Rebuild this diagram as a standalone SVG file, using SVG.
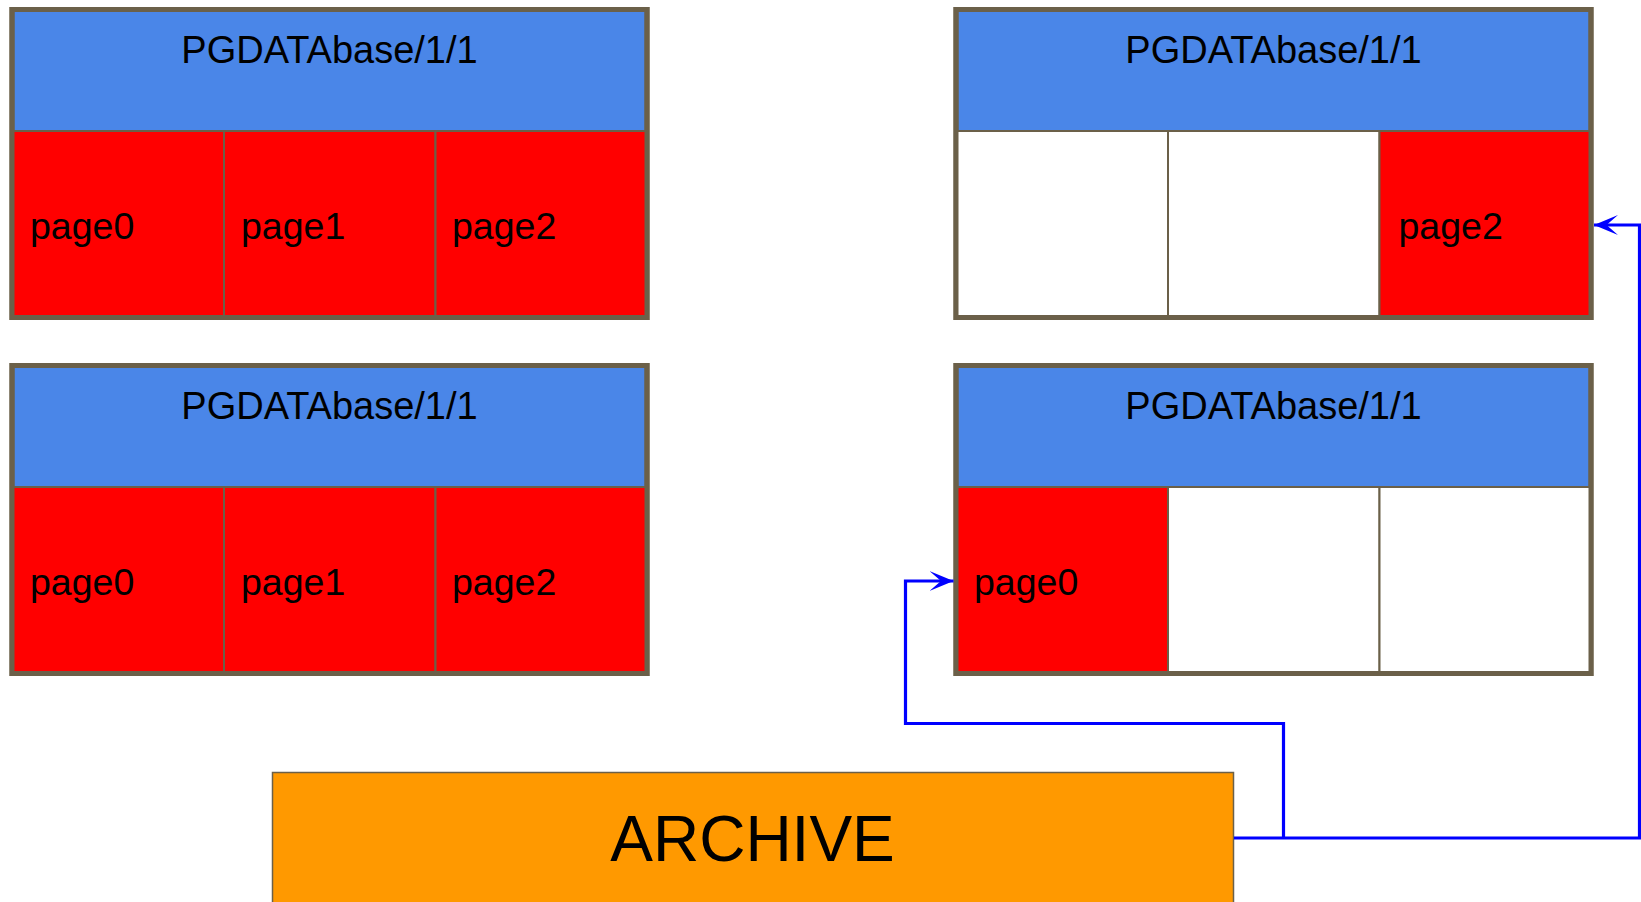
<svg xmlns="http://www.w3.org/2000/svg" width="1641" height="902" viewBox="0 0 1641 902">
<defs>
<style>
.frame{fill:#4a86e8;stroke:#6b6049;stroke-width:5}
.cell{stroke:#6b6049;stroke-width:2}
.red{fill:#ff0000}
.white{fill:#ffffff}
.t{font-family:"Liberation Sans",Arial,sans-serif;fill:#000}
.hd{font-size:38px;text-anchor:middle}
.pg{font-size:37.5px}
.conn{fill:none;stroke:#0000ff;stroke-width:3.2}
</style>
<marker id="arr" viewBox="0 0 25 21" refX="24" refY="10.5" markerWidth="25" markerHeight="21" markerUnits="userSpaceOnUse" orient="auto">
<path d="M24,10.5 L0,0.5 L11.5,10.5 L0,20.5 Z" fill="#0000ff"/>
</marker>
</defs>
<rect width="1641" height="902" fill="#fff"/>
<g id="box-top-left">
<rect class="frame" x="12" y="9.5" width="635" height="308"/>
<rect class="cell red" x="13" y="131" width="211" height="187"/>
<rect class="cell red" x="224" y="131" width="211.5" height="187"/>
<rect class="cell red" x="435.5" y="131" width="211" height="187"/>
<rect fill="none" stroke="#6b6049" stroke-width="5" x="12" y="9.5" width="635" height="308"/>
<text class="t hd" x="329.5" y="63">PGDATAbase/1/1</text>
<text class="t pg" x="30" y="239">page0</text>
<text class="t pg" x="241" y="239">page1</text>
<text class="t pg" x="452" y="239">page2</text>
</g>
<g id="box-bottom-left">
<rect class="frame" x="12" y="365.5" width="635" height="308"/>
<rect class="cell red" x="13" y="487" width="211" height="187"/>
<rect class="cell red" x="224" y="487" width="211.5" height="187"/>
<rect class="cell red" x="435.5" y="487" width="211" height="187"/>
<rect fill="none" stroke="#6b6049" stroke-width="5" x="12" y="365.5" width="635" height="308"/>
<text class="t hd" x="329.5" y="419">PGDATAbase/1/1</text>
<text class="t pg" x="30" y="595">page0</text>
<text class="t pg" x="241" y="595">page1</text>
<text class="t pg" x="452" y="595">page2</text>
</g>
<g id="box-top-right">
<rect class="frame" x="956" y="9.5" width="635" height="308"/>
<rect class="cell white" x="957" y="131" width="211" height="187"/>
<rect class="cell white" x="1168" y="131" width="211.5" height="187"/>
<rect class="cell red" x="1379.5" y="131" width="211" height="187"/>
<rect fill="none" stroke="#6b6049" stroke-width="5" x="956" y="9.5" width="635" height="308"/>
<text class="t hd" x="1273.5" y="63">PGDATAbase/1/1</text>
<text class="t pg" x="1398.5" y="239">page2</text>
</g>
<g id="box-bottom-right">
<rect class="frame" x="956" y="365.5" width="635" height="308"/>
<rect class="cell red" x="957" y="487" width="211" height="187"/>
<rect class="cell white" x="1168" y="487" width="211.5" height="187"/>
<rect class="cell white" x="1379.5" y="487" width="211" height="187"/>
<rect fill="none" stroke="#6b6049" stroke-width="5" x="956" y="365.5" width="635" height="308"/>
<text class="t hd" x="1273.5" y="419">PGDATAbase/1/1</text>
<text class="t pg" x="974" y="595">page0</text>
</g>
<g id="archive">
<rect x="272.5" y="772.5" width="961" height="200" fill="#ff9900" stroke="#6b6049" stroke-width="1.5"/>
<text class="t" x="752.5" y="861" font-size="64" text-anchor="middle">ARCHIVE</text>
</g>
<g id="connectors">
<path class="conn" d="M1234,838 L1639.5,838 L1639.5,225 L1594,225" marker-end="url(#arr)"/>
<path class="conn" d="M1283.5,838 L1283.5,723.5 L905.5,723.5 L905.5,581 L953.5,581" marker-end="url(#arr)"/>
</g>
</svg>
